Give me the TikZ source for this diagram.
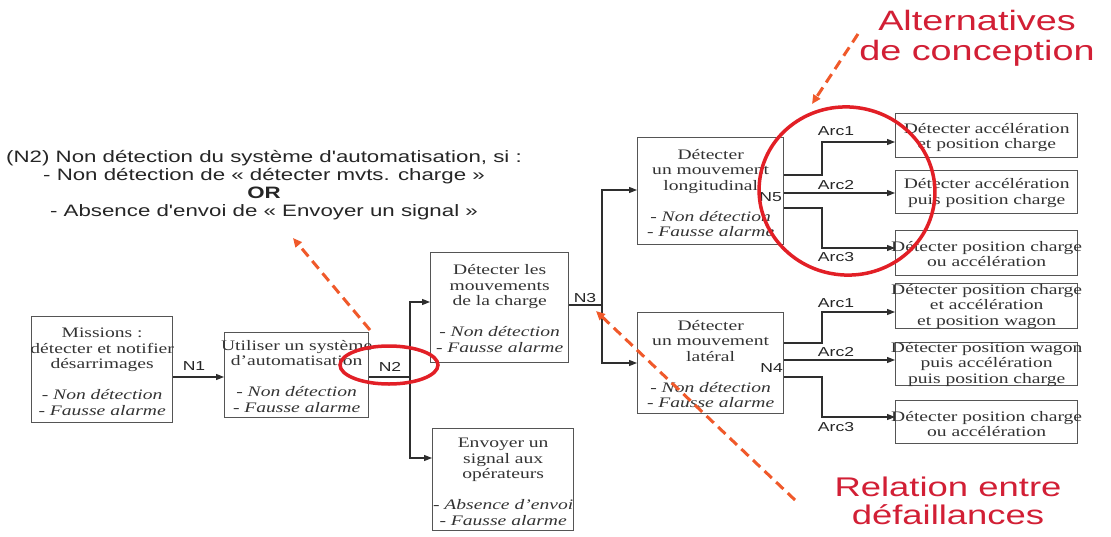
\documentclass[tikz,border=0pt]{standalone}
\usepackage{fontspec}
\setmainfont{Liberation Serif}[FakeStretch=1.35]
\newfontfamily\lsans{Liberation Sans}[FakeStretch=1.35]
\usetikzlibrary{arrows.meta,shapes.geometric}
\definecolor{boxc}{HTML}{555555}
\definecolor{txtc}{HTML}{333333}
\definecolor{linec}{HTML}{2E2E2E}
\definecolor{redc}{HTML}{E21F26}
\definecolor{orc}{HTML}{F0592A}
\definecolor{redtxt}{HTML}{D21F35}
\begin{document}
\begin{tikzpicture}[x=1pt,y=-1pt,
  fbox/.style={draw=boxc, line width=1.3pt, inner sep=0pt, anchor=north west},
  btxt/.style={align=center, text=txtc, inner sep=0pt, font=\fontsize{14.5}{15.5}\selectfont},
  conn/.style={draw=linec, line width=1.1pt},
  arr/.style={conn, -{Triangle[length=8pt,width=6pt]}},
  lbl/.style={font=\lsans\fontsize{13}{14}\selectfont, text=black!85, inner sep=0pt},
  ring/.style={draw=redc, line width=3.5pt, ellipse, inner sep=0pt},
  hint/.style={draw=orc, line width=3pt, dash pattern=on 10pt off 6pt, -{Triangle[length=9pt,width=8pt]}}
]
\fill[white] (0,0) rectangle (1111,536);
\useasboundingbox (0,0) rectangle (1111,536);

% boxes
\node[fbox, minimum width=141pt, minimum height=106pt] (mis) at (31,316) {};
\node[fbox, minimum width=144pt, minimum height=85pt] (uti) at (224,332) {};
\node[fbox, minimum width=138pt, minimum height=110pt] (dmc) at (430,252) {};
\node[fbox, minimum width=141pt, minimum height=102pt] (env) at (432,428) {};
\node[fbox, minimum width=146pt, minimum height=107pt] (lon) at (637,137) {};
\node[fbox, minimum width=146pt, minimum height=101pt] (lat) at (637,312) {};
\node[fbox, minimum width=182pt, minimum height=44pt] (r1) at (895,113) {};
\node[fbox, minimum width=182pt, minimum height=43pt] (r2) at (895,170) {};
\node[fbox, minimum width=182pt, minimum height=45pt] (r3) at (895,230) {};
\node[fbox, minimum width=182pt, minimum height=45pt] (r4) at (895,283) {};
\node[fbox, minimum width=182pt, minimum height=43pt] (r5) at (895,342) {};
\node[fbox, minimum width=182pt, minimum height=43pt] (r6) at (895,400) {};

% box texts
\node[btxt] (mist) at ([yshift=-2pt]mis.center) {Missions :\\détecter et notifier\\désarrimages\\[15.5pt]\textit{- Non détection}\\\textit{- Fausse alarme}};
\node[btxt] (utit) at ([yshift=-1pt]uti.center) {Utiliser un système\\d'automatisation\\[15.5pt]\textit{- Non détection}\\\textit{- Fausse alarme}};
\node[btxt] (dmct) at ([yshift=-1pt]dmc.center) {Détecter les\\mouvements\\de la charge\\[15.5pt]\textit{- Non détection}\\\textit{- Fausse alarme}};
\node[btxt] (envt) at ([yshift=-2pt]env.center) {Envoyer un\\signal aux\\opérateurs\\[15.5pt]\textit{- Absence d'envoi}\\\textit{- Fausse alarme}};
\node[btxt] (lont) at ([yshift=-2pt]lon.center) {Détecter\\un mouvement\\longitudinal\\[15.5pt]\textit{- Non détection}\\\textit{- Fausse alarme}};
\node[btxt] (latt) at ([yshift=-1pt]lat.center) {Détecter\\un mouvement\\latéral\\[15.5pt]\textit{- Non détection}\\\textit{- Fausse alarme}};
\node[btxt] (r1t) at ([yshift=-2pt]r1.center) {Détecter accélération\\et position charge};
\node[btxt] (r2t) at ([yshift=-1pt]r2.center) {Détecter accélération\\puis position charge};
\node[btxt] (r3t) at ([yshift=-1pt]r3.center) {Détecter position charge\\ou accélération};
\node[btxt] (r4t) at (r4.center) {Détecter position charge\\et accélération\\et position wagon};
\node[btxt] (r5t) at (r5.center) {Détecter position wagon\\puis accélération\\puis position charge};
\node[btxt] (r6t) at ([yshift=-2pt]r6.center) {Détecter position charge\\ou accélération};

% N1
\coordinate (y1) at (0,377);
\draw[arr] (mis.east |- y1) -- (uti.west |- y1);
\node[lbl] (n1) at (194,366) {N1};

% N2
\coordinate (b2) at (410,377);
\coordinate (b2t) at (410,302);
\coordinate (b2b) at (410,458);
\draw[conn] (uti.east |- b2) -- (b2);
\draw[arr] (b2) -- (b2t) -- (dmc.west |- b2t);
\draw[arr] (b2) -- (b2b) -- (env.west |- b2b);
\node[lbl] (n2) at (390,367) {N2};

% N3
\coordinate (b3) at (602,305);
\coordinate (b3t) at (602,190);
\coordinate (b3b) at (602,363);
\draw[conn] (dmc.east |- b3) -- (b3);
\draw[arr] (b3) -- (b3t) -- (lon.west |- b3t);
\draw[arr] (b3) -- (b3b) -- (lat.west |- b3b);
\node[lbl] (n3) at (585,298) {N3};

% N5
\coordinate (a51) at (822,175);
\coordinate (a51t) at (822,142);
\coordinate (a52) at (822,193);
\coordinate (a53) at (822,208);
\coordinate (a53b) at (822,248);
\draw[arr] (lon.east |- a51) -- (a51) -- (a51t) -- (r1.west |- a51t);
\draw[arr] (lon.east |- a52) -- (r2.west |- a52);
\draw[arr] (lon.east |- a53) -- (a53) -- (a53b) -- (r3.west |- a53b);
\node[lbl, anchor=east] (n5) at (782,197) {N5};
\node[lbl] (l51) at (836,131) {Arc1};
\node[lbl] (l52) at (836,185) {Arc2};
\node[lbl] (l53) at (836,257) {Arc3};

% N4
\coordinate (a41) at (822,343);
\coordinate (a41t) at (822,312);
\coordinate (a42) at (822,360);
\coordinate (a43) at (822,377);
\coordinate (a43b) at (822,417);
\draw[arr] (lat.east |- a41) -- (a41) -- (a41t) -- (r4.west |- a41t);
\draw[arr] (lat.east |- a42) -- (r5.west |- a42);
\draw[arr] (lat.east |- a43) -- (a43) -- (a43b) -- (r6.west |- a43b);
\node[lbl, anchor=east] (n4) at (783,368) {N4};
\node[lbl] (l41) at (836,303) {Arc1};
\node[lbl] (l42) at (836,352) {Arc2};
\node[lbl] (l43) at (836,427) {Arc3};

% note
\node[font=\lsans\fontsize{16.5}{18}\selectfont, align=center, text=black!85, inner sep=0pt] (note) at (264,185)
  {(N2) Non détection du système d'automatisation, si :\\- Non détection de « détecter mvts. charge »\\\textbf{OR}\\- Absence d'envoi de « Envoyer un signal »};

% red annotations
\node[font=\lsans\fontsize{28}{30}\selectfont, text=redtxt, align=center, inner sep=0pt] (alt) at (977,38) {Alternatives\\de conception};
\node[font=\lsans\fontsize{27}{28}\selectfont, text=redtxt, align=center, inner sep=0pt] (rel) at (948,501) {Relation entre\\défaillances};

\node[ring, minimum width=98pt, minimum height=38pt] (ring2) at (389,365) {};
\node[ring, minimum width=176pt, minimum height=168pt, rotate=-8] (ring5) at (847,191) {};

\coordinate (h1a) at (858,34);
\coordinate (h1b) at (812,104);
\draw[hint] (h1a) -- (h1b);
\coordinate (h2a) at (795,500);
\coordinate (h2b) at (596,311);
\draw[hint] (h2a) -- (h2b);
\coordinate (h3a) at (370,330);
\coordinate (h3b) at (293,238);
\draw[hint] (h3a) -- (h3b);
\end{tikzpicture}
\end{document}
